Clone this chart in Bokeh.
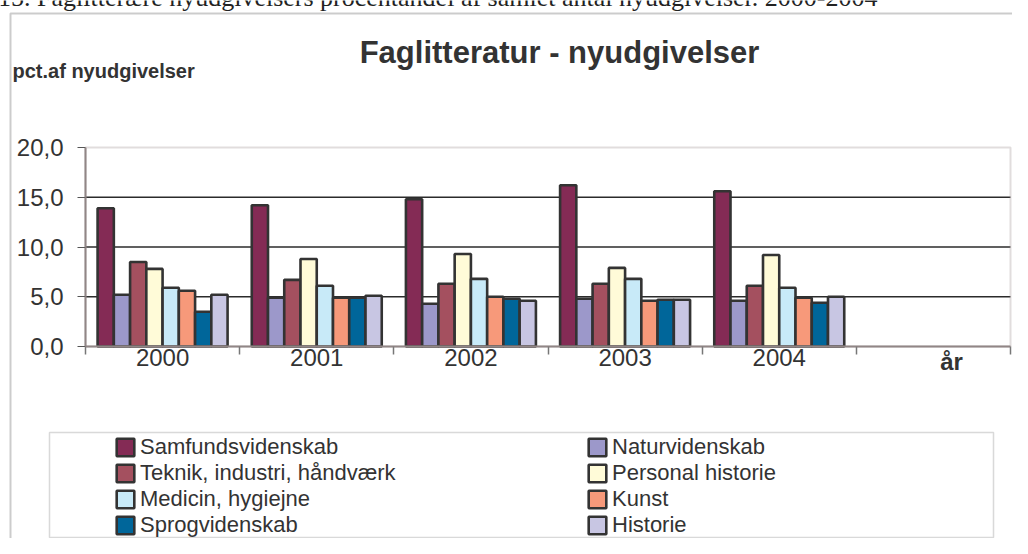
from bokeh.plotting import figure
from bokeh.models import (Range1d, FixedTicker, Label, BoxAnnotation, Legend,
                          LegendItem, ColumnDataSource)
from bokeh.transform import dodge
from bokeh.embed import file_html
from bokeh.resources import INLINE

# ---------------- data ----------------
years = ["2000", "2001", "2002", "2003", "2004"]
series_names = ["Samfundsvidenskab", "Naturvidenskab", "Teknik, industri, håndværk",
                "Personal historie", "Medicin, hygiejne", "Kunst", "Sprogvidenskab", "Historie"]
samfundsvidenskab = [13.9, 14.2, 14.8, 16.2, 15.6]
naturvidenskab = [5.2, 4.9, 4.3, 4.8, 4.6]
teknik = [8.5, 6.7, 6.3, 6.3, 6.1]
personal_historie = [7.8, 8.8, 9.3, 7.9, 9.2]
medicin = [5.9, 6.1, 6.8, 6.8, 5.9]
kunst = [5.6, 4.9, 5.0, 4.6, 4.9]
sprogvidenskab = [3.5, 4.9, 4.8, 4.7, 4.4]
historie = [5.2, 5.1, 4.6, 4.7, 5.0]
series_values = [samfundsvidenskab, naturvidenskab, teknik, personal_historie,
                 medicin, kunst, sprogvidenskab, historie]
colors = ["#842B55", "#9C98CA", "#A4505F", "#FFFBD8", "#C8EAF8", "#F7997A", "#00669A", "#C8C6E3"]
y_ticks = [0, 5, 10, 15, 20]
grid_ticks = [5, 10, 15]
title_text = "Faglitteratur - nyudgivelser"
caption_text = "15. Faglitterære nyudgivelsers procentandel af samlet antal nyudgivelser. 2000-2004"
y_label_text = "pct.af nyudgivelser"
x_label_text = "år"

# ---------------- layout (pixels) ----------------
W, H = 1012, 538
n_slots = len(years) + 1
PX_LEFT, PX_RIGHT = 85, 1010      # chart area x extent
PX_TOP, PX_BOTTOM = 147, 346      # chart area y extent (y=20 .. y=0)
Y_MAX = 20
sx = (PX_RIGHT - PX_LEFT) / n_slots
sy = (PX_BOTTOM - PX_TOP) / Y_MAX
x_start = -PX_LEFT / sx
x_end = x_start + W / sx
y_end = Y_MAX + PX_TOP / sy
y_start = -(H - PX_BOTTOM) / sy

def ys(px_from_top):
    return H - px_from_top

p = figure(width=W, height=H, output_backend="svg", toolbar_location=None,
           x_range=Range1d(x_start, x_end), y_range=Range1d(y_start, y_end))
p.min_border = 0
p.min_border_left = 0
p.min_border_right = 0
p.min_border_top = 0
p.min_border_bottom = 0
p.background_fill_color = "white"
p.border_fill_color = "white"
p.outline_line_color = None
p.grid.visible = False

# gridlines inside the chart area
gsrc = ColumnDataSource(dict(y=grid_ticks, x0=[0] * len(grid_ticks), x1=[n_slots] * len(grid_ticks)))
p.segment(x0="x0", x1="x1", y0="y", y1="y", source=gsrc, line_color="#2b2b2b", line_width=1.3)

# bars
src_data = {"x": [i + 0.5 for i in range(len(years))]}
for j, vals in enumerate(series_values):
    src_data[f"s{j}"] = vals
src = ColumnDataSource(src_data)

bw = 0.1054
renderers = []
for j, (name, col) in enumerate(zip(series_names, colors)):
    r = p.vbar(x=dodge("x", (j - 3.5) * bw), top=f"s{j}", bottom=0, width=bw,
               source=src, fill_color=col, line_color="#333333", line_width=2.6)
    renderers.append(r)

# chart area outline
p.add_layout(BoxAnnotation(left=0, right=n_slots, bottom=0, top=Y_MAX,
                           fill_alpha=0, fill_color=None,
                           line_color="#9c8f8f", line_width=2))

# y axis (fixed at x=0)
ya = p.yaxis[0]
ya.fixed_location = 0
ya.bounds = (0, Y_MAX)
ya.ticker = FixedTicker(ticks=y_ticks)
ya.major_label_overrides = {t: f"{t:.1f}".replace(".", ",") for t in y_ticks}
ya.axis_line_color = "#8d8383"
ya.axis_line_width = 2
ya.major_tick_out = 8
ya.major_tick_in = 0
ya.major_tick_line_color = "#555555"
ya.minor_tick_line_color = None
ya.major_label_standoff = 14
ya.major_label_text_font = "Liberation Sans"
ya.major_label_text_font_size = "24px"
ya.major_label_text_color = "#333333"

# x axis (fixed at y=0)
xa = p.xaxis[0]
xa.fixed_location = 0
xa.bounds = (0, n_slots)
xa.ticker = FixedTicker(ticks=[i + 0.5 for i in range(len(years))],
                        minor_ticks=list(range(n_slots + 1)))
xa.major_label_overrides = {i + 0.5: y for i, y in enumerate(years)}
xa.axis_line_color = "#8d8383"
xa.axis_line_width = 2
xa.major_tick_out = 0
xa.major_tick_in = 0
xa.minor_tick_out = 8
xa.minor_tick_in = 0
xa.minor_tick_line_color = "#777777"
xa.minor_tick_line_width = 1.5
xa.major_label_standoff = -6
xa.major_label_text_font = "Liberation Sans"
xa.major_label_text_font_size = "24px"
xa.major_label_text_color = "#333333"

# ---------------- boxes ----------------
scr = dict(left_units="screen", right_units="screen", top_units="screen", bottom_units="screen")
p.add_layout(BoxAnnotation(left=10, right=W + 40, top=ys(13), bottom=-60, **scr,
                           fill_alpha=0, fill_color=None, line_color="#555555", line_width=2))
p.add_layout(BoxAnnotation(left=49, right=993, top=ys(432), bottom=ys(537), **scr,
                           fill_alpha=0, fill_color=None, line_color="#808080", line_width=1.5))

# ---------------- texts ----------------
LABEL_SHIFT = 10  # compensates Bokeh's baseline placement

def add_label(text, x, baseline_px, size, align="left", bold=False, font="Liberation Sans", color="#333333"):
    p.add_layout(Label(x=x, y=ys(baseline_px - LABEL_SHIFT), x_units="screen", y_units="screen",
                       text=text, text_align=align, text_baseline="alphabetic",
                       text_font=font, text_font_style="bold" if bold else "normal",
                       text_font_size=size, text_color=color))

add_label(caption_text, 877, 7, "26px", align="right", font="Liberation Serif", color="#222222")
add_label(title_text, 559, 62, "31px", align="center", bold=True)
add_label(y_label_text, 12, 80, "20px", align="left", bold=True)
add_label(x_label_text, 951, 371, "24px", align="center", bold=True)

# ---------------- legends ----------------
def make_legend(idx, loc):
    lg = Legend(items=[LegendItem(label=series_names[j], renderers=[renderers[j]]) for j in idx],
                location=loc, orientation="vertical")
    lg.padding = 0
    lg.margin = 0
    lg.spacing = 0
    lg.border_line_alpha = 0
    lg.background_fill_alpha = 0
    lg.label_text_font = "Liberation Sans"
    lg.label_text_font_size = "22px"
    lg.label_text_color = "#333333"
    lg.glyph_width = 22
    lg.glyph_height = 22
    lg.label_standoff = 4
    lg.label_height = 20
    return lg

p.add_layout(make_legend([0, 2, 4, 6], (114, 0)))
p.add_layout(make_legend([1, 3, 5, 7], (586, 0)))

open("out.html", "w").write(file_html(p, INLINE))
